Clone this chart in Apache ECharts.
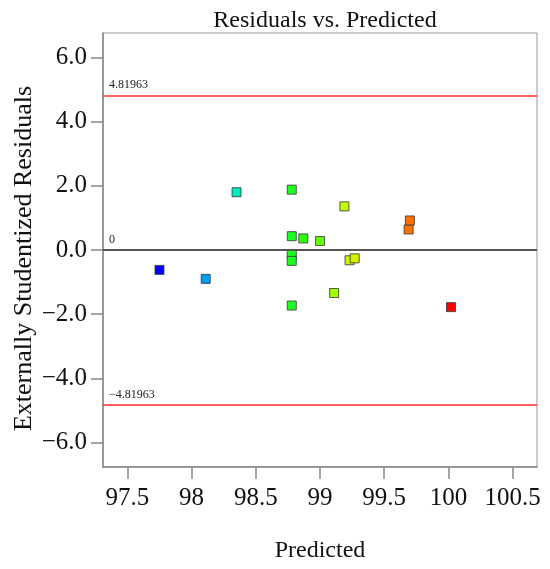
<!DOCTYPE html>
<html>
<head>
	<meta charset="utf-8">
	<title>Residuals vs. Predicted</title>
	<script src="https://cdn.jsdelivr.net/npm/echarts@6/dist/echarts.min.js"></script>
	<style type="text/css">
		html, body { margin: 0; padding: 0; background: #fff; }
		#chart { width: 550px; height: 569px; }
	</style>
</head>
<body>
	<div id="chart"></div>
	<script type="text/javascript">
		// values
		var predicted = [97.75, 98.11, 98.35, 98.78, 98.78, 98.78, 98.78, 98.78, 98.87, 99.00, 99.11, 99.19, 99.23, 99.27, 99.69, 99.70, 100.02];
		var residuals = [-0.62, -0.90, 1.80, 1.88, 0.43, -0.13, -0.34, -1.73, 0.36, 0.28, -1.34, 1.36, -0.32, -0.26, 0.64, 0.92, -1.78];
		var xTicks = [97.5, 98, 98.5, 99, 99.5, 100, 100.5];
		var yTicks = [-6, -4, -2, 0, 2, 4, 6];
		var limitValue = 4.81963;

		var font = '"Liberation Serif", "Times New Roman", serif';
		var points = predicted.map(function(p, i) { return [p, residuals[i]]; });

		var chart = echarts.init(document.getElementById('chart'));
		var option = {
			animation: false,
			title: {
				text: 'Residuals vs. Predicted',
				left: 320,
				textAlign: 'center',
				top: 4,
				textStyle: { fontFamily: font, fontSize: 24, fontWeight: 'normal', color: '#111' }
			},
			grid: {
				left: 103,
				right: 13,
				top: 33,
				bottom: 102,
				outerBoundsMode: 'none',
				show: true,
				borderColor: '#999',
				borderWidth: 1
			},
			visualMap: {
				show: false,
				dimension: 0,
				min: 97.75,
				max: 100.02,
				inRange: {
					color: ['#0000ff', '#0080ff', '#00e8d0', '#00ff60', '#30ff00', '#c0ff00', '#ffd000', '#ff6000', '#ff0000']
				}
			},
			xAxis: {
				type: 'value',
				min: 97.31,
				max: 100.69,
				name: 'Predicted',
				nameLocation: 'middle',
				nameGap: 72,
				nameMoveOverlap: false,
				nameTextStyle: { fontFamily: font, fontSize: 24, color: '#111' },
				axisLine: { onZero: false, lineStyle: { color: '#888', width: 1.5 } },
				axisTick: { show: true, length: 12, customValues: xTicks, lineStyle: { color: '#888', width: 1.5 } },
				axisLabel: {
					customValues: xTicks,
					margin: 19,
					fontFamily: font,
					fontSize: 25,
					color: '#111'
				},
				splitLine: { show: false }
			},
			yAxis: {
				type: 'value',
				min: -6.76,
				max: 6.76,
				name: 'Externally Studentized Residuals',
				nameLocation: 'middle',
				nameGap: 66,
				nameMoveOverlap: false,
				nameTextStyle: { fontFamily: font, fontSize: 26, color: '#111', padding: [0, 17, 0, 0] },
				axisLine: { show: true, onZero: false, lineStyle: { color: '#888', width: 1.5 } },
				axisTick: { show: true, length: 12, customValues: yTicks, lineStyle: { color: '#888', width: 1.5 } },
				axisLabel: {
					customValues: yTicks,
					margin: 16,
					fontFamily: font,
					fontSize: 25,
					color: '#111',
					formatter: function(v) { return v.toFixed(1).replace('-', '\u2212'); }
				},
				splitLine: { show: false }
			},
			series: [{
				type: 'scatter',
				symbol: 'rect',
				symbolSize: 9,
				data: points,
				itemStyle: { opacity: 1, borderColor: 'rgba(60,60,60,0.85)', borderWidth: 1 },
				markLine: {
					silent: true,
					symbol: 'none',
					label: {
						position: 'insideStartTop',
						distance: [6, 4],
						fontFamily: font,
						fontSize: 12,
						color: '#222'
					},
					data: [
						{ yAxis: limitValue, label: { formatter: String(limitValue) }, lineStyle: { color: '#ff2a2a', width: 1.5, type: 'solid' } },
						{ yAxis: 0, label: { formatter: '0' }, lineStyle: { color: '#555', width: 2, type: 'solid' } },
						{ yAxis: -limitValue, label: { formatter: '\u2212' + limitValue }, lineStyle: { color: '#ff2a2a', width: 1.5, type: 'solid' } }
					]
				}
			}]
		};
		chart.setOption(option);
	</script>
</body>
</html>
